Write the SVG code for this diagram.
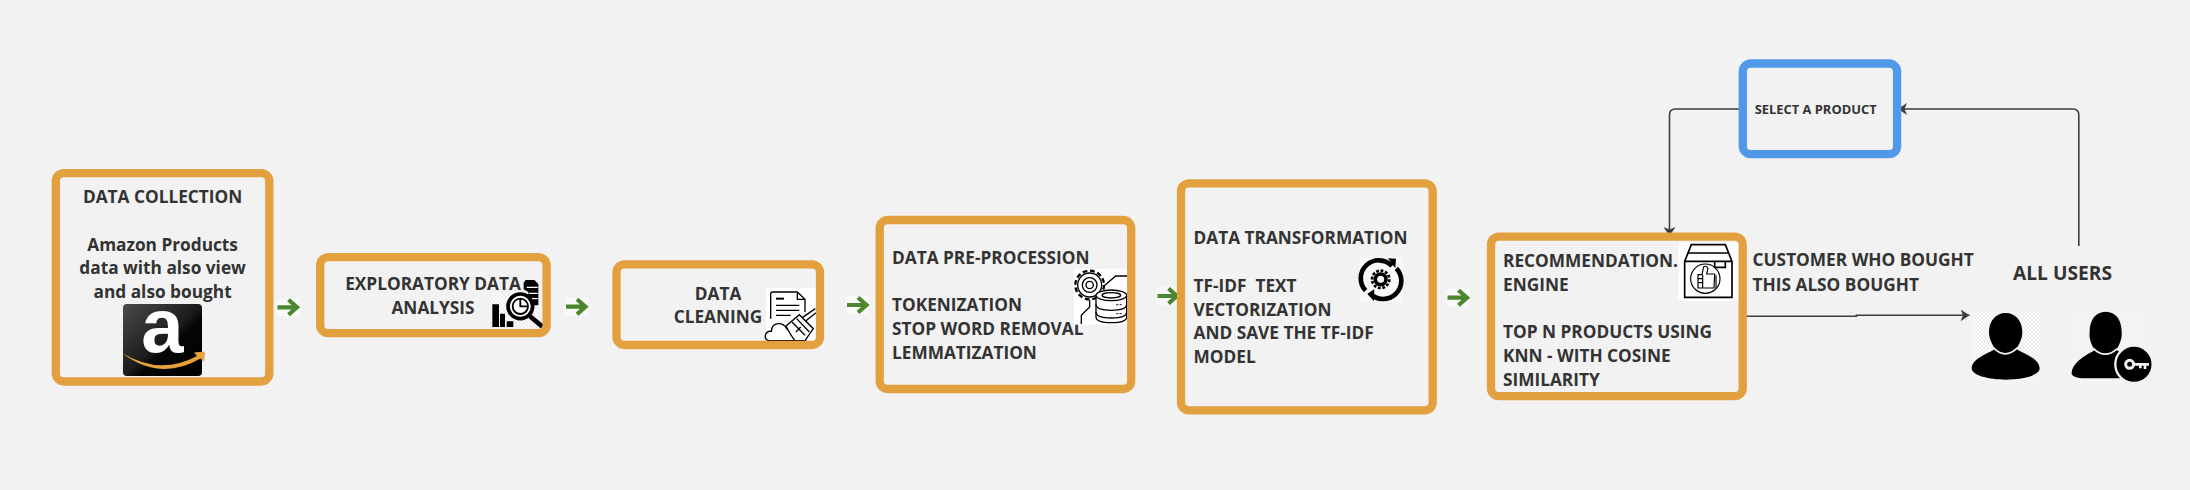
<svg xmlns="http://www.w3.org/2000/svg" width="2190" height="490" viewBox="0 0 2190 490">
<style>
.box{fill:none;stroke:#e2a03f;stroke-width:8.3}
.blue{fill:none;stroke:#4f99e8;stroke-width:8.3}
.t{font-family:"Open Sans","Noto Sans","Liberation Sans",sans-serif;font-weight:700;font-size:17.25px;fill:#333}
.m{text-anchor:middle}
.ln{fill:none;stroke:#3d3d3d;stroke-width:1.6}
.k{fill:#000}
.o{fill:none;stroke:#000;stroke-width:4}
</style>
<defs>
<marker id="ah" markerUnits="userSpaceOnUse" markerWidth="12" markerHeight="12" refX="9" refY="6" orient="auto"><path d="M0,0 L9,6 L0,12 L2.5,6 Z" fill="#3d3d3d"/></marker>
<pattern id="chk" width="12" height="12" patternUnits="userSpaceOnUse"><rect width="12" height="12" fill="#fff"/><rect width="6" height="6" fill="#ececec"/><rect x="6" y="6" width="6" height="6" fill="#ececec"/></pattern>
<pattern id="fine" width="3" height="3" patternUnits="userSpaceOnUse"><rect width="3" height="3" fill="#f6f6f6"/><rect width="1.5" height="1.5" fill="#ebebeb"/></pattern>
<linearGradient id="az" x1="0" y1="0" x2="1" y2="1"><stop offset="0" stop-color="#4a4b4d"/><stop offset=".5" stop-color="#1c1c1d"/><stop offset=".6" stop-color="#050505"/><stop offset="1" stop-color="#000"/></linearGradient>
<g id="ga"><rect x="-1" y="-9" width="23" height="18" fill="#f9f9f9"/><path d="M0,0H19M11,-7.500L19.500,0L11,7.500" fill="none" stroke="#4a872e" stroke-width="4.200"/></g>
</defs>
<rect width="2190" height="490" fill="#f2f2f2"/>

<g id="connectors">
<path class="ln" d="M1742,109H1675.500Q1669.500,109 1669.500,115V236" marker-end="url(#ah)"/>
<path class="ln" d="M2078.800,246V115Q2078.800,109 2072.800,109H1898" marker-end="url(#ah)"/>
<path class="ln" d="M1744,316.300H1856.400V315.300H1969.500" marker-end="url(#ah)"/>
<use href="#ga" x="277.500" y="307.300"/>
<use href="#ga" x="566" y="306.700"/>
<use href="#ga" x="847" y="305"/>
<use href="#ga" x="1157.500" y="296"/>
<use href="#ga" x="1447.500" y="297.700"/>
</g>

<g id="data-collection">
<text class="t m" x="162.600" y="203.300">DATA COLLECTION</text>
<text class="t m" x="162.600" y="251">Amazon Products</text>
<text class="t m" x="162.600" y="274.300">data with also view</text>
<text class="t m" x="162.600" y="297.700">and also bought</text>
<rect x="123" y="304" width="79" height="72" rx="4" fill="url(#az)"/>
<text x="162.500" y="352" text-anchor="middle" style="font-family:'Liberation Sans',sans-serif;font-weight:700;font-size:76px;fill:#fff">a</text>
<path d="M122,353Q160,376 197,356L194,352.500L205,351.500L204,362L200.500,358.500Q160,382 122,353Z" fill="#e8a23a"/>
<rect class="box" x="55.800" y="173.200" width="213.500" height="208.300" rx="8"/>
</g>

<g id="exploratory-data-analysis">
<text class="t m" x="433" y="290">EXPLORATORY DATA</text>
<text class="t m" x="433" y="314">ANALYSIS</text>
<g transform="translate(485 272) scale(.3333)">
<rect x="20" y="62" width="138" height="103" fill="url(#chk)"/>
<path class="k" d="M116,32L122,24H148L160,36V100H130V60L116,52Z"/>
<path d="M125,46H158M132,64H158M135,80H158" stroke="#fff" stroke-width="4" fill="none"/>
<path class="k" d="M22,97H42V165H22ZM45,125H60V165H45ZM65,148H85V165H65Z"/>
<circle cx="106" cy="103" r="37" fill="#fff" stroke="#000" stroke-width="11"/>
<circle cx="106" cy="103" r="23" fill="none" stroke="#000" stroke-width="5.500"/>
<path d="M106,80V103H129" fill="none" stroke="#000" stroke-width="5.500"/>
<path d="M135,133L172,164" stroke="#000" stroke-width="14" fill="none"/>
</g>
<rect class="box" x="320.200" y="257.200" width="226.400" height="76" rx="8"/>
</g>

<g id="data-cleaning">
<text class="t m" x="718" y="300">DATA</text>
<text class="t m" x="718" y="323.300">CLEANING</text>
<g transform="translate(760 282) scale(.3333)">
<rect x="18" y="18" width="150" height="163" fill="#fff"/>
<path class="o" d="M32,110V36Q32,30 38,30H112L135,52V90M112,30V52H135"/>
<path d="M48,50H72" stroke="#000" stroke-width="6" fill="none"/>
<path class="o" d="M48,70H118M48,85H118M48,100H92"/>
<path class="o" style="fill:#fff" d="M28,176Q14,174 16,160Q20,146 34,148Q36,125 56,125Q72,125 80,140L135,176Z"/>
<path class="o" style="fill:#fff" d="M78,132L118,98L160,140L135,176H105Q92,160 78,132Z"/>
<path class="o" d="M96,120L135,160M110,110L148,150M108,150L122,135"/>
<path class="o" d="M128,106L166,80M138,116L168,92"/>
</g>
<rect class="box" x="616.500" y="264.300" width="203.500" height="80.700" rx="8"/>
</g>

<g id="data-pre-procession">
<text class="t" x="892" y="263.700">DATA PRE-PROCESSION</text>
<text class="t" x="892" y="310.700">TOKENIZATION</text>
<text class="t" x="892" y="335">STOP WORD REMOVAL</text>
<text class="t" x="892" y="359">LEMMATIZATION</text>
<g transform="translate(1068 262) scale(.3333)">
<rect x="18" y="20" width="160" height="168" fill="#fff"/>
<circle cx="65" cy="69" r="43" fill="none" stroke="#000" stroke-width="7" stroke-dasharray="14 8.500"/>
<circle cx="65" cy="69" r="36" class="o"/>
<circle cx="65" cy="69" r="22" class="o"/>
<circle cx="65" cy="69" r="11" class="o"/>
<path class="o" d="M108,72L143,42H178M65,115V135L40,160V186"/>
<path class="o" style="fill:#fff" d="M84,100V165Q84,182 130,182Q176,182 176,165V100"/>
<ellipse cx="130" cy="100" rx="46" ry="16" class="o" style="fill:#fff"/>
<ellipse cx="130" cy="100" rx="28" ry="8" class="o"/>
<path class="o" d="M84,127Q84,145 130,145Q176,145 176,127M84,150Q84,168 130,168Q176,168 176,150"/>
<path d="M145,128h6m4,0h6M145,155h6m4,0h6" stroke="#000" stroke-width="3" fill="none"/>
</g>
<rect class="box" x="879.700" y="220" width="251.500" height="169" rx="8"/>
</g>

<g id="data-transformation">
<text class="t" x="1193.500" y="244">DATA TRANSFORMATION</text>
<text class="t" x="1193.500" y="292" xml:space="preserve">TF-IDF  TEXT</text>
<text class="t" x="1193.500" y="316">VECTORIZATION</text>
<text class="t" x="1193.500" y="339">AND SAVE THE TF-IDF</text>
<text class="t" x="1193.500" y="362.700">MODEL</text>
<g transform="translate(1350 250) scale(.3333)">
<rect x="28" y="22" width="130" height="133" fill="#f8f8f8"/>
<path d="M47,122A52,52 0 0 1 126,48" fill="none" stroke="#000" stroke-width="14"/>
<path d="M139,55A52,52 0 0 1 60,130" fill="none" stroke="#000" stroke-width="14"/>
<path class="k" d="M114,25L138,26L136,55ZM73,118L52,131L72,154Z"/>
<circle cx="92" cy="88" r="26" fill="none" stroke="#000" stroke-width="8" stroke-dasharray="8.500 5"/>
<circle cx="92" cy="88" r="16" fill="none" stroke="#000" stroke-width="11"/>
</g>
<rect class="box" x="1181" y="183.300" width="251.700" height="227" rx="8"/>
</g>

<g id="recommendation-engine">
<text class="t" x="1503" y="266.700">RECOMMENDATION.</text>
<text class="t" x="1503" y="291">ENGINE</text>
<text class="t" x="1503" y="337.700">TOP N PRODUCTS USING</text>
<text class="t" x="1503" y="362">KNN - WITH COSINE</text>
<text class="t" x="1503" y="386">SIMILARITY</text>
<g transform="translate(1672 238) scale(.3333)">
<rect x="20" y="14" width="188" height="174" fill="#fff"/>
<path class="o" style="stroke-width:5" d="M38,70L58,20H160L180,70V178H38ZM38,70H180M50,45H168M128,70V88H160V70"/>
<circle cx="100" cy="122" r="44" fill="none" stroke="#000" stroke-width="3.500"/>
<path class="o" style="stroke-width:3.500;fill:#fff" d="M78,110H90L95,86Q104,82 108,92L104,108H128L126,150H78Z"/>
<path class="o" style="stroke-width:3.500" d="M78,122H92M78,134H92M92,110V150M132,112V150"/>
</g>
<rect class="box" x="1491" y="236.700" width="251.700" height="159.500" rx="8"/>
</g>

<g id="select-a-product">
<rect class="blue" x="1742.800" y="63.500" width="154.300" height="90.700" rx="8"/>
<text class="t" x="1754.700" y="114" style="font-size:12.900px">SELECT A PRODUCT</text>
</g>

<g id="edge-label">
<text class="t" x="1752.600" y="266">CUSTOMER WHO BOUGHT</text>
<text class="t" x="1752.600" y="291">THIS ALSO BOUGHT</text>
</g>

<g id="all-users">
<text class="t" x="2013" y="280" style="font-size:19.200px">ALL USERS</text>
<g transform="translate(1965 305) scale(.3333)">
<rect x="18" y="20" width="207" height="208" fill="url(#chk)" opacity=".55"/>
<path class="k" d="M20,190C22,160 65,148 90,132C80,115 72,100 72,82C72,48 92,24 122,24C152,24 172,48 172,82C172,100 164,115 154,132C180,148 222,160 224,190C224,212 170,224 122,224C74,224 20,212 20,190Z"/>
<path d="M85,128Q120,165 158,128" fill="none" stroke="#f4f4f4" stroke-width="5"/>
<rect x="320" y="20" width="240" height="215" fill="url(#fine)"/>
<path class="k" d="M320,205C322,170 365,150 390,135C378,118 372,100 374,80C374,45 392,20 422,20C452,20 470,45 470,80C472,100 464,118 454,135C478,148 510,165 520,190V220H350C335,218 320,215 320,205Z"/>
<path d="M385,130Q420,165 458,130" fill="none" stroke="#f4f4f4" stroke-width="5"/>
<circle cx="507" cy="178" r="56" class="k" stroke="#f2f2f2" stroke-width="7"/>
<circle cx="494" cy="178" r="12" fill="none" stroke="#f2f2f2" stroke-width="9"/>
<path d="M505,178H552M540,178V192M526,178V190" fill="none" stroke="#f2f2f2" stroke-width="8"/>
</g>
</g>
</svg>
